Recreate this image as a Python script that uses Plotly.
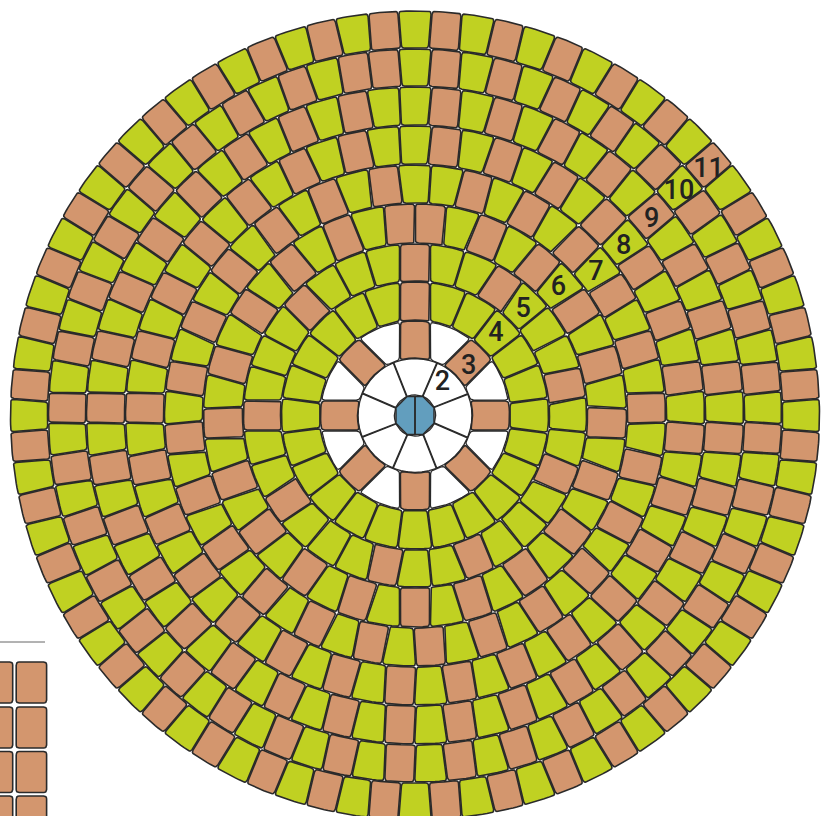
import math
import plotly.graph_objects as go

GREEN = "#C0D122"
BROWN = "#D3966E"
BLUE = "#629EBE"
WHITE = "#FFFFFF"
INK = "#2A2A2A"

RING_NUMBERS = [2, 3, 4, 5, 6, 7, 8, 9, 10, 11]
RING_EDGES = [20.6, 57, 95, 134, 172, 212, 251, 290, 329, 367, 405]
RING_PHASE_DEG = [0, 0, 0, 0, 4.39, 0, 0, 0, 0, 0]
RING_2 = "WWWWWWWW"
RING_3 = "BWBWBWBWBWBWBWBW"
RING_4 = "BGGGGGGGGGGGGGGGGGGGGGGG"
RING_5 = "BGGBGGGBGGBGGGBGGBGGGBGGBGGGBGGG"
RING_6 = "BGBGBGBGBGBGBGBGBGBGBGBGBGBGBGBGBGBGBGBGB"
RING_7 = "GGBGBGBGBGBGBGBGBGBGBGBGBGBGBGBGBGBGBGBGBGBGBGBGB"
RING_8 = "GBGBGBGBGBGBGBGBGBGBGBGBGBGBGBGBGBGBGBGBGBGBGBGBGBGBGBGBG"
RING_9 = "GBGBGBGBGBGBGBGBGBGBGBGBGBGBGBGBGBGBGBGBGBGBGBGBGBGBGBGBGBGBGBGBG"
RING_10 = "GBGBGBGBGBGBGBGBGBGBGBGBGBGBGBGBGBGBGBGBGBGBGBGBGBGBGBGBGBGBGBGBGBGBGBGBB"
RING_11 = "GBGBGBGBGBGBGBGBGBGBGBGBGBGBGBGBGBGBGBGBGBGBGBGBGBGBGBGBGBGBGBGBGBGBGBGBGBGBGBGB"
RINGS = [RING_2, RING_3, RING_4, RING_5, RING_6, RING_7, RING_8, RING_9, RING_10, RING_11]

LABEL_TEXT = ["2", "3", "4", "5", "6", "7", "8", "9", "10", "11"]
LABEL_CELL = [1, 2, 3, 4, 5, 7, 8, 9, 10, 11]
LABEL_SHIFT_Y = [-5, 5, 0, 3, 0, 2, 4, 4, 4, 5]

SIDE_COLUMNS = [(-17, 12.7), (16.2, 46.6)]
SIDE_ROWS = [(662, 703), (707, 748), (751.5, 792.5), (796, 837)]
RULE_X = [0, 45]
RULE_Y = [642, 642]

CX, CY = 415.0, 415.5
BRICK_HALF = 15.0


def pt(r, a):
    return (CX + r * math.sin(a), CY - r * math.cos(a))


def bez(p0, c, p2, n=4):
    out = []
    for k in range(n + 1):
        t = k / n
        out.append(((1 - t) ** 2 * p0[0] + 2 * t * (1 - t) * c[0] + t * t * p2[0],
                    (1 - t) ** 2 * p0[1] + 2 * t * (1 - t) * c[1] + t * t * p2[1]))
    return out


def along(a, b, d):
    L = math.hypot(b[0] - a[0], b[1] - a[1])
    return (a[0] + (b[0] - a[0]) * d / L, a[1] + (b[1] - a[1]) * d / L)


def split_angle(code, nxt, center, pitch, r):
    if code == "B" and nxt != "B":
        return center + math.asin(BRICK_HALF / r)
    if nxt == "B" and code != "B":
        return center + pitch - math.asin(BRICK_HALF / r)
    return center + pitch / 2


def cell_path(r0, r1, left0, left1, right0, right1, corner, inset):
    ri, ro = r0 + inset, r1 - inset
    l0, l1 = left0 + inset / r0, left1 + inset / r1
    r_0, r_1 = right0 - inset / r0, right1 - inset / r1
    IL, OL, OR, IR = pt(ri, l0), pt(ro, l1), pt(ro, r_1), pt(ri, r_0)
    path = []
    path += bez(along(IL, OL, corner), IL, pt(ri, l0 + corner / ri))[::-1]
    path += bez(along(OL, IL, corner), OL, pt(ro, l1 + corner / ro))
    for k in range(1, 6):
        path.append(pt(ro, l1 + corner / ro + (r_1 - l1 - 2 * corner / ro) * k / 6))
    path += bez(pt(ro, r_1 - corner / ro), OR, along(OR, IR, corner))
    path += bez(along(IR, OR, corner), IR, pt(ri, r_0 - corner / ri))
    for k in range(1, 4):
        path.append(pt(ri, r_0 - corner / ri - (r_0 - l0 - 2 * corner / ri) * k / 4))
    path.append(path[0])
    return path


bins = {"G": ([], []), "B": ([], []), "W": ([], [])}
label_x, label_y = [], []
for n, code_str in enumerate(RINGS):
    count = len(code_str)
    pitch = 2 * math.pi / count
    phase = math.radians(RING_PHASE_DEG[n])
    r0, r1 = RING_EDGES[n], RING_EDGES[n + 1]
    corner = 1.0 if RING_NUMBERS[n] == 2 else 3.0
    inset = 0.05 if RING_NUMBERS[n] == 2 else 0.5
    for i, code in enumerate(code_str):
        a = phase + i * pitch
        prev = code_str[(i - 1) % count]
        nxt = code_str[(i + 1) % count]
        left0 = split_angle(prev, code, a - pitch, pitch, r0)
        left1 = split_angle(prev, code, a - pitch, pitch, r1)
        right0 = split_angle(code, nxt, a, pitch, r0)
        right1 = split_angle(code, nxt, a, pitch, r1)
        poly = cell_path(r0, r1, left0, left1, right0, right1, corner, inset)
        xs, ys = bins[code]
        xs += [p[0] for p in poly] + [None]
        ys += [p[1] for p in poly] + [None]
        if i == LABEL_CELL[n]:
            c = pt((r0 + r1) / 2, a)
            label_x.append(c[0])
            label_y.append(c[1] + LABEL_SHIFT_Y[n])

# centre octagon, split down the middle
oct_r = RING_EDGES[0]
apo = oct_r * math.cos(math.radians(22.5))
blue_x, blue_y = [], []
for sign in (1, -1):
    pts = [(apo, 0), (oct_r, 22.5), (oct_r, 67.5), (oct_r, 112.5), (oct_r, 157.5), (apo, 180), (apo, 0)]
    for r, d in pts:
        x, y = pt(r, math.radians(d) * sign)
        blue_x.append(x)
        blue_y.append(y)
    blue_x.append(None)
    blue_y.append(None)

# partial block panel at the lower left
side_x, side_y = [], []
for (x0, x1) in SIDE_COLUMNS:
    for (y0, y1) in SIDE_ROWS:
        c = 3.0
        corners = [(x0, y0), (x1, y0), (x1, y1), (x0, y1)]
        poly = []
        for j, p in enumerate(corners):
            prv, nx = corners[j - 1], corners[(j + 1) % 4]
            poly += bez(along(p, prv, c), p, along(p, nx, c))
        poly.append(poly[0])
        side_x += [p[0] for p in poly] + [None]
        side_y += [p[1] for p in poly] + [None]

fig = go.Figure()


def add_fill(xs, ys, color, width=1.6):
    fig.add_trace(go.Scatter(x=xs, y=ys, mode="lines", fill="toself", fillcolor=color,
                             line=dict(color=INK, width=width), hoverinfo="skip", showlegend=False))


add_fill(bins["W"][0], bins["W"][1], WHITE, 1.3)
add_fill(bins["G"][0], bins["G"][1], GREEN)
add_fill(bins["B"][0], bins["B"][1], BROWN)
add_fill(blue_x, blue_y, BLUE, 1.5)
add_fill(side_x, side_y, BROWN)
fig.add_trace(go.Scatter(x=RULE_X, y=RULE_Y, mode="lines", line=dict(color="#666666", width=1),
                         hoverinfo="skip", showlegend=False))
fig.add_trace(go.Scatter(x=label_x, y=label_y, mode="text", text=LABEL_TEXT, textposition="middle center",
                         textfont=dict(family="Roboto, sans-serif", size=27, color="#222222", weight=500),
                         hoverinfo="skip", showlegend=False))

fig.update_layout(width=830, height=816, margin=dict(l=0, r=0, t=0, b=0),
                  plot_bgcolor="white", paper_bgcolor="white",
                  xaxis=dict(range=[0, 830], visible=False, fixedrange=True),
                  yaxis=dict(range=[816, 0], visible=False, fixedrange=True))
fig.write_html("out.html", config={"displayModeBar": False},
               post_script="document.body.style.margin='0';document.body.style.overflow='hidden';")
